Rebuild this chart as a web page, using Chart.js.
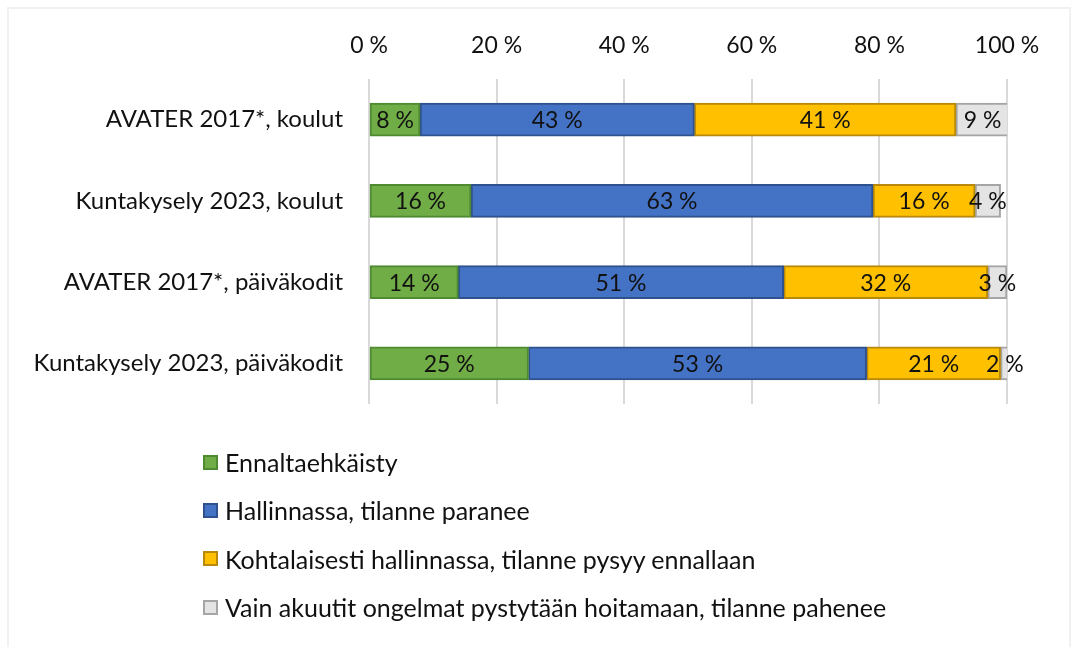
<!DOCTYPE html>
<html>
<head>
<meta charset="utf-8">
<script src="https://cdn.jsdelivr.net/npm/chart.js@4"></script>
<style>
  html, body { margin: 0; padding: 0; background: #fff; }
  #wrap { position: relative; width: 1073px; height: 647px; overflow: hidden; }
  #frame { position: absolute; left: 7px; top: 7px; right: 2px; bottom: -10px; border: 2px solid #f1f1f1; pointer-events: none; }
  canvas { position: absolute; left: 0; top: 0; }
  #legend { position: absolute; left: 203px; top: 438px; font-family: Lato, "Open Sans", sans-serif; font-size: 25px; color: #111; }
  #legend .item { display: flex; align-items: center; height: 48.3px; white-space: nowrap; }
  #legend .box { width: 15px; height: 15px; box-sizing: border-box; border: 2px solid; margin-right: 7px; }
</style>
</head>
<body>
<div id="wrap">
  <canvas id="c" width="1073" height="647"></canvas>
  <div id="frame"></div>
  <div id="legend"></div>
</div>
<script>
const categories = [
  "AVATER 2017*, koulut",
  "Kuntakysely 2023, koulut",
  "AVATER 2017*, päiväkodit",
  "Kuntakysely 2023, päiväkodit"
];
const seriesNames = [
  "Ennaltaehkäisty",
  "Hallinnassa, tilanne paranee",
  "Kohtalaisesti hallinnassa, tilanne pysyy ennallaan",
  "Vain akuutit ongelmat pystytään hoitamaan, tilanne pahenee"
];
const ennaltaehkaisty = [8, 16, 14, 25];
const hallinnassa = [43, 63, 51, 53];
const kohtalaisesti = [41, 16, 32, 21];
const vainAkuutit = [9, 4, 3, 2];
const xTicks = [0, 20, 40, 60, 80, 100];

const fills = ["#70AD47", "#4472C4", "#FFC000", "#E4E4E4"];
const borders = ["#4E8A30", "#2F528F", "#B8890A", "#A5A5A5"];
const seriesValues = [ennaltaehkaisty, hallinnassa, kohtalaisesti, vainAkuutit];

const FONT = "Lato, 'Open Sans', sans-serif";

const labelPlugin = {
  id: 'barLabels',
  afterDatasetsDraw(chart) {
    const ctx = chart.ctx;
    ctx.save();
    ctx.font = "23px " + FONT;
    ctx.fillStyle = "#111";
    ctx.textAlign = "center";
    ctx.textBaseline = "middle";
    chart.data.datasets.forEach((ds, di) => {
      const meta = chart.getDatasetMeta(di);
      meta.data.forEach((bar, i) => {
        const v = ds.data[i];
        const x0 = bar.base, x1 = bar.x;
        const cx = (Math.min(x0, x1) + Math.min(Math.max(x0, x1), chart.chartArea.right + 2)) / 2;
        ctx.fillText(v + " %", cx, bar.y + 1);
      });
    });
    ctx.restore();
  }
};

const chart = new Chart(document.getElementById('c'), {
  type: 'bar',
  data: {
    labels: categories,
    datasets: seriesNames.map((n, k) => ({
      label: n,
      data: seriesValues[k],
      backgroundColor: fills[k],
      borderColor: borders[k],
      borderWidth: 2,
      barThickness: 33,
      borderSkipped: false
    }))
  },
  options: {
    indexAxis: 'y',
    responsive: false,
    animation: false,
    layout: { padding: { left: 0, right: 66, top: 0, bottom: 243 } },
    plugins: { legend: { display: false }, tooltip: { enabled: false } },
    scales: {
      x: {
        position: 'top',
        stacked: true,
        min: 0, max: 100,
        afterBuildTicks: (s) => { s.ticks = xTicks.map(v => ({ value: v })); },
        ticks: { callback: (v) => v + " %", font: { family: FONT, size: 23 }, color: "#111", padding: 20, maxRotation: 0 },
        grid: { color: "#d9d9d9", lineWidth: 2, drawTicks: false },
        border: { display: false },
        afterFit: (s) => { s.height = 79; }
      },
      y: {
        stacked: true,
        ticks: { font: { family: FONT, size: 24 }, color: "#111", padding: 26 },
        grid: { display: false, drawTicks: false },
        border: { display: false },
        afterFit: (s) => { s.width = 369; }
      }
    }
  },
  plugins: [labelPlugin]
});

const lg = document.getElementById('legend');
chart.data.datasets.forEach((ds) => {
  const it = document.createElement('div');
  it.className = 'item';
  const b = document.createElement('span');
  b.className = 'box';
  b.style.background = ds.backgroundColor;
  b.style.borderColor = ds.borderColor;
  const t = document.createElement('span');
  t.textContent = ds.label;
  it.appendChild(b); it.appendChild(t);
  lg.appendChild(it);
});
</script>
</body>
</html>
